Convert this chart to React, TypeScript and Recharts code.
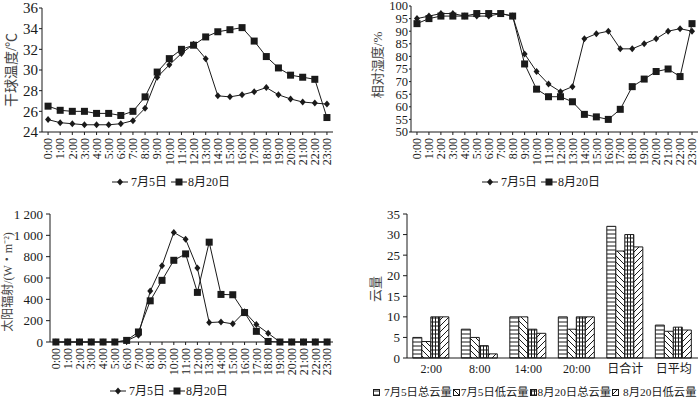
import React from 'react';
import { LineChart, Line, BarChart, Bar, XAxis, YAxis } from 'recharts';

const FONT = '"Liberation Serif", "Times New Roman", "Noto Sans CJK SC", serif';
const INK = '#1a1a1a';

const hours = [
  '0:00', '1:00', '2:00', '3:00', '4:00', '5:00', '6:00', '7:00',
  '8:00', '9:00', '10:00', '11:00', '12:00', '13:00', '14:00', '15:00',
  '16:00', '17:00', '18:00', '19:00', '20:00', '21:00', '22:00', '23:00',
];

// dry bulb temperature, ℃
const tempJul5 = [
  25.2, 24.9, 24.8, 24.7, 24.7, 24.7, 24.8, 25.1, 26.3, 29.3, 30.5, 31.6,
  32.5, 31.1, 27.5, 27.4, 27.6, 27.9, 28.3, 27.6, 27.2, 26.9, 26.8, 26.7,
];
const tempAug20 = [
  26.5, 26.1, 26.0, 26.0, 25.8, 25.8, 25.6, 26.0, 27.4, 29.8, 31.1, 32.0,
  32.4, 33.2, 33.7, 33.9, 34.1, 32.8, 31.3, 30.2, 29.5, 29.3, 29.1, 25.4,
];

// relative humidity, %
const rhJul5 = [
  95, 96, 97, 97, 96, 96, 96, 97, 96, 81, 74, 69,
  66, 68, 87, 89, 90, 83, 83, 85, 87, 90, 91, 90,
];
const rhAug20 = [
  93, 95, 96, 96, 96, 97, 97, 97, 96, 77, 67, 64,
  64, 62, 57, 56, 55, 59, 68, 71, 74, 75, 72, 93,
];

// solar radiation, W/m2
const radJul5 = [
  0, 0, 0, 0, 0, 0, 12, 63, 477, 716, 1027, 964,
  694, 182, 188, 170, 283, 163, 82, 0, 0, 0, 0, 0,
];
const radAug20 = [
  0, 0, 0, 0, 0, 0, 15, 94, 386, 578, 766, 826,
  465, 936, 446, 443, 276, 100, 5, 0, 0, 0, 0, 0,
];

// cloud amount
const cloudCats = ['2:00', '8:00', '14:00', '20:00', '日合计', '日平均'];
const cloudTotalJul5 = [5, 7, 10, 10, 32, 8];
const cloudLowJul5 = [4, 5, 10, 7, 26, 6.5];
const cloudTotalAug20 = [10, 3, 7, 10, 30, 7.5];
const cloudLowAug20 = [10, 1, 6, 10, 27, 6.8];

const tempTicks = [24, 26, 28, 30, 32, 34, 36];
const rhTicks = [50, 55, 60, 65, 70, 75, 80, 85, 90, 95, 100];
const radTicks = [0, 200, 400, 600, 800, 1000, 1200];
const cloudTicks = [0, 5, 10, 15, 20, 25, 30, 35];

const toRows = (a: number[], b: number[]) =>
  hours.map((h, i) => ({ hour: h, jul5: a[i], aug20: b[i] }));

const cloudRows = cloudCats.map((c, i) => ({
  cat: c,
  t1: cloudTotalJul5[i],
  l1: cloudLowJul5[i],
  t2: cloudTotalAug20[i],
  l2: cloudLowAug20[i],
}));

const fmtThousands = (v: number) =>
  v >= 1000 ? `${Math.floor(v / 1000)} ${String(v % 1000).padStart(3, '0')}` : String(v);

const Diamond = (props: any) => {
  const { cx, cy, index } = props;
  if (cx == null || cy == null) return <g key={`d${index}`} />;
  return (
    <path
      key={`d${index}`}
      d={`M${cx},${cy - 3.5}L${cx + 3},${cy}L${cx},${cy + 3.5}L${cx - 3},${cy}Z`}
      fill={INK}
    />
  );
};

const Square = (props: any) => {
  const { cx, cy, index } = props;
  if (cx == null || cy == null) return <g key={`s${index}`} />;
  return <rect key={`s${index}`} x={cx - 3.5} y={cy - 3.5} width={7} height={7} fill={INK} />;
};

const HourTick = (props: any) => {
  const { x, y, payload } = props;
  return (
    <text
      x={x}
      y={y}
      transform={`rotate(-90 ${x} ${y})`}
      textAnchor="end"
      dy="0.35em"
      fontSize={12}
      fill={INK}
      fontFamily={FONT}
    >
      {payload.value}
    </text>
  );
};

const LineLegend = ({ left, top }: { left: number; top: number }) => (
  <div
    style={{
      position: 'absolute', left, top, display: 'flex', alignItems: 'center',
      fontFamily: FONT, fontSize: 12, color: INK, whiteSpace: 'nowrap', lineHeight: '14px',
    }}
  >
    <svg width={16} height={10}>
      <line x1={0} y1={5} x2={16} y2={5} stroke={INK} />
      <path d="M8,1.5L11,5L8,8.5L5,5Z" fill={INK} />
    </svg>
    <span style={{ marginLeft: 3, marginRight: 4 }}>7月5日</span>
    <svg width={16} height={10}>
      <line x1={0} y1={5} x2={16} y2={5} stroke={INK} />
      <rect x={4.5} y={1.5} width={7} height={7} fill={INK} />
    </svg>
    <span style={{ marginLeft: 1 }}>8月20日</span>
  </div>
);

const YTitle = ({ text, cx, cy, size }: { text: string; cx: number; cy: number; size: number }) => (
  <div
    style={{
      position: 'absolute', left: cx, top: cy, transform: 'translate(-50%, -50%) rotate(-90deg)',
      fontFamily: FONT, fontSize: size, color: '#444', whiteSpace: 'nowrap', lineHeight: 1,
    }}
  >
    {text}
  </div>
);

interface PanelProps {
  left: number;
  top: number;
  height: number;
  a: number[];
  b: number[];
  domain: [number, number];
  ticks: number[];
  yWidth: number;
  right: number;
  marginTop: number;
  xHeight: number;
  tickSize: number;
  tickMargin: number;
  yFont: number;
  fmt?: (v: number) => string;
}

const HourPanel = (p: PanelProps) => (
  <div style={{ position: 'absolute', left: p.left, top: p.top }}>
    <LineChart
      width={350}
      height={p.height}
      data={toRows(p.a, p.b)}
      margin={{ top: p.marginTop, right: p.right, bottom: 0, left: 0 }}
    >
      <XAxis
        dataKey="hour"
        scale="band"
        interval={0}
        height={p.xHeight}
        tick={<HourTick />}
        tickSize={3}
        tickMargin={3}
        axisLine={{ stroke: INK }}
        tickLine={{ stroke: INK }}
      />
      <YAxis
        type="number"
        domain={p.domain}
        ticks={p.ticks}
        interval={0}
        width={p.yWidth}
        tickSize={p.tickSize}
        tickMargin={p.tickMargin}
        tickFormatter={p.fmt}
        axisLine={{ stroke: INK }}
        tickLine={{ stroke: INK }}
        tick={{ fill: INK, fontSize: p.yFont, fontFamily: FONT }}
      />
      <Line
        dataKey="jul5"
        type="linear"
        stroke={INK}
        strokeWidth={1}
        dot={Diamond}
        activeDot={false}
        isAnimationActive={false}
      />
      <Line
        dataKey="aug20"
        type="linear"
        stroke={INK}
        strokeWidth={1}
        dot={Square}
        activeDot={false}
        isAnimationActive={false}
      />
    </LineChart>
  </div>
);

const PATTERNS = [
  { key: 't1', id: 'pat-h', name: '7月5日总云量' },
  { key: 'l1', id: 'pat-b', name: '7月5日低云量' },
  { key: 't2', id: 'pat-g', name: '8月20日总云量' },
  { key: 'l2', id: 'pat-f', name: '8月20日低云量' },
];

const CloudLegend = () => (
  <div
    style={{
      position: 'absolute', left: 373, top: 386, display: 'flex', alignItems: 'center',
      fontFamily: FONT, fontSize: 11.3, color: INK, whiteSpace: 'nowrap', lineHeight: '13px',
    }}
  >
    {PATTERNS.map((p, i) => (
      <React.Fragment key={p.key}>
        <svg width={7} height={7} style={{ marginRight: i === 0 || i === 3 ? 4 : 1 }}>
          <rect x={0.5} y={0.5} width={6} height={6} fill={`url(#${p.id})`} stroke={INK} />
        </svg>
        <span style={{ marginRight: 1 }}>{p.name}</span>
      </React.Fragment>
    ))}
  </div>
);

const CloudPanel = () => (
  <div style={{ position: 'absolute', left: 350, top: 200 }}>
    <BarChart
      width={350}
      height={197}
      data={cloudRows}
      margin={{ top: 14, right: 2, bottom: 0, left: 0 }}
      barCategoryGap="12%"
      barGap={0}
    >
      <defs>
        <pattern id="pat-h" width={4} height={4} patternUnits="userSpaceOnUse">
          <rect width={4} height={4} fill="#fff" />
          <line x1={0} y1={2} x2={4} y2={2} stroke={INK} strokeWidth={1} />
        </pattern>
        <pattern id="pat-b" width={6} height={6} patternUnits="userSpaceOnUse">
          <rect width={6} height={6} fill="#fff" />
          <path d="M0,0L6,6M-1,5L1,7M5,-1L7,1" stroke={INK} strokeWidth={1} />
        </pattern>
        <pattern id="pat-g" width={3} height={4} patternUnits="userSpaceOnUse">
          <rect width={3} height={4} fill="#fff" />
          <line x1={0} y1={2} x2={3} y2={2} stroke={INK} strokeWidth={1} />
          <line x1={1.5} y1={0} x2={1.5} y2={4} stroke={INK} strokeWidth={1} />
        </pattern>
        <pattern id="pat-f" width={6} height={6} patternUnits="userSpaceOnUse">
          <rect width={6} height={6} fill="#fff" />
          <path d="M0,6L6,0M-1,1L1,-1M5,7L7,5" stroke={INK} strokeWidth={1} />
        </pattern>
      </defs>
      <XAxis
        dataKey="cat"
        interval={0}
        height={39}
        tickSize={0}
        tickMargin={6}
        axisLine={{ stroke: INK }}
        tick={{ fill: INK, fontSize: 12, fontFamily: FONT }}
      />
      <YAxis
        type="number"
        domain={[0, 35]}
        ticks={cloudTicks}
        interval={0}
        width={57}
        tickSize={4}
        tickMargin={3}
        axisLine={{ stroke: INK }}
        tickLine={{ stroke: INK }}
        tick={{ fill: INK, fontSize: 13, fontFamily: FONT }}
      />
      {PATTERNS.map((p) => (
        <Bar
          key={p.key}
          dataKey={p.key}
          name={p.name}
          fill={`url(#${p.id})`}
          stroke={INK}
          strokeWidth={1}
          isAnimationActive={false}
        />
      ))}
    </BarChart>
  </div>
);

export default function App() {
  return (
    <div
      style={{
        position: 'absolute', left: 0, top: 0, width: 700, height: 397,
        background: '#fff', overflow: 'hidden', fontFamily: FONT,
      }}
    >
      <HourPanel
        left={0} top={0} height={200} a={tempJul5} b={tempAug20}
        domain={[24, 36]} ticks={tempTicks} yWidth={42} right={17}
        marginTop={8} xHeight={68} tickSize={3} tickMargin={1} yFont={15}
      />
      <YTitle text="干球温度/℃" cx={12} cy={70} size={14} />
      <LineLegend left={112} top={175} />

      <HourPanel
        left={350} top={0} height={200} a={rhJul5} b={rhAug20}
        domain={[50, 100]} ticks={rhTicks} yWidth={61} right={2}
        marginTop={6} xHeight={68} tickSize={2} tickMargin={1} yFont={12.5}
      />
      <YTitle text="相对湿度/%" cx={377} cy={65} size={13} />
      <LineLegend left={482} top={175} />

      <HourPanel
        left={0} top={200} height={197} a={radJul5} b={radAug20}
        domain={[0, 1200]} ticks={radTicks} yWidth={50} right={17}
        marginTop={14} xHeight={55} tickSize={4} tickMargin={3} yFont={13}
        fmt={fmtThousands}
      />
      <YTitle text="太阳辐射/(W・m⁻²)" cx={8} cy={282} size={12} />
      <LineLegend left={110} top={384} />

      <CloudPanel />
      <YTitle text="云量" cx={375} cy={289} size={13} />
      <CloudLegend />
    </div>
  );
}
